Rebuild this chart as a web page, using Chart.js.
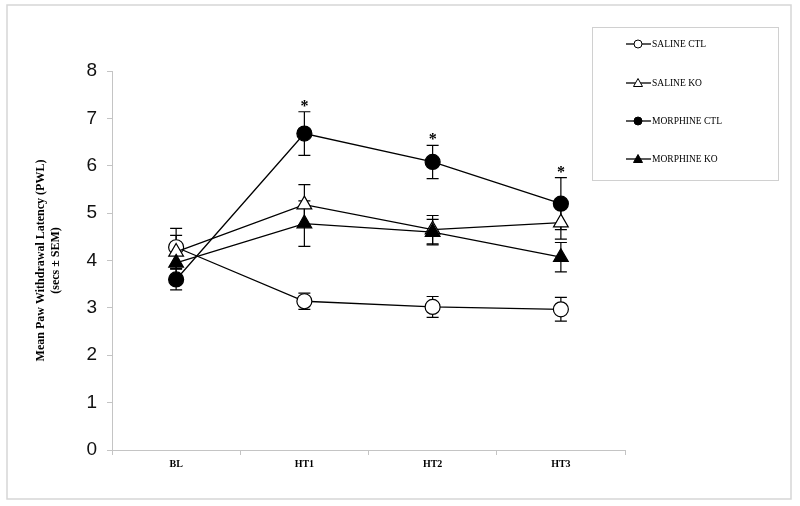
<!DOCTYPE html>
<html>
<head>
<meta charset="utf-8">
<script src="https://cdn.jsdelivr.net/npm/chart.js@4"></script>
<style>
  body { margin: 0; background: #fff; }
</style>
</head>
<body>
<canvas id="pwlChart" width="800" height="506"></canvas>
<script>
// time points
const categories = ['BL', 'HT1', 'HT2', 'HT3'];

// means (secs)
const salineCtl = [4.28, 3.14, 3.02, 2.97];
const salineKo = [4.18, 5.18, 4.65, 4.80];
const morphineCtl = [3.60, 6.68, 6.08, 5.20];
const morphineKo = [3.95, 4.78, 4.60, 4.07];

// SEM
const salineCtlSem = [0.40, 0.17, 0.22, 0.25];
const salineKoSem = [0.35, 0.42, 0.30, 0.35];
const morphineCtlSem = [0.22, 0.46, 0.35, 0.55];
const morphineKoSem = [0.30, 0.48, 0.27, 0.31];

// asterisks over MORPHINE CTL
const significant = [false, true, true, true];

const yTicks = [0, 1, 2, 3, 4, 5, 6, 7, 8];

const axisGrey = '#c4c4c4';

function series(label, data, sem, style, fill, radius, order) {
    return {
        label: label,
        data: data,
        sem: sem,
        borderColor: '#000',
        borderWidth: 1.3,
        pointStyle: style,
        pointRadius: radius,
        pointHoverRadius: radius,
        pointBackgroundColor: fill,
        pointBorderColor: '#000',
        pointBorderWidth: 1.2,
        tension: 0,
        order: order
    };
}

// light frame round the whole picture
const framePlugin = {
    id: 'frame',
    beforeDraw(chart) {
        const c = chart.ctx;
        c.save();
        c.strokeStyle = '#d6d6d6';
        c.lineWidth = 1.5;
        c.strokeRect(7, 5, 784, 494);
        c.restore();
    }
};

// vertical SEM bars with caps, under the markers
const errorBarPlugin = {
    id: 'errorBars',
    beforeDatasetsDraw(chart) {
        const c = chart.ctx;
        const y = chart.scales.y;
        c.save();
        c.strokeStyle = '#000';
        c.lineWidth = 1.2;
        chart.data.datasets.forEach((ds, i) => {
            const meta = chart.getDatasetMeta(i);
            meta.data.forEach((pt, j) => {
                const top = y.getPixelForValue(ds.data[j] + ds.sem[j]);
                const bot = y.getPixelForValue(ds.data[j] - ds.sem[j]);
                c.beginPath();
                c.moveTo(pt.x, top); c.lineTo(pt.x, bot);
                c.moveTo(pt.x - 6, top); c.lineTo(pt.x + 6, top);
                c.moveTo(pt.x - 6, bot); c.lineTo(pt.x + 6, bot);
                c.stroke();
            });
        });
        c.restore();
    },
    afterDatasetsDraw(chart) {
        const c = chart.ctx;
        const y = chart.scales.y;
        const meta = chart.getDatasetMeta(2);
        c.save();
        c.fillStyle = '#000';
        c.font = 'bold 16px "Liberation Serif"';
        c.textAlign = 'center';
        c.textBaseline = 'alphabetic';
        meta.data.forEach((pt, j) => {
            if (!significant[j]) return;
            const top = y.getPixelForValue(morphineCtl[j] + morphineCtlSem[j]);
            c.fillText('*', pt.x, top - 1);
        });
        c.restore();
    }
};

// boxed legend at the upper right
const legendBoxPlugin = {
    id: 'legendBox',
    afterDraw(chart) {
        const c = chart.ctx;
        c.save();
        c.strokeStyle = '#d0d0d0';
        c.lineWidth = 1;
        c.strokeRect(592.5, 27.5, 186, 153);
        const rows = [44, 83, 121, 159];
        chart.data.datasets.forEach((ds, i) => {
            const yy = rows[i];
            c.strokeStyle = '#000';
            c.lineWidth = 1.3;
            c.beginPath();
            c.moveTo(626, yy); c.lineTo(651, yy);
            c.stroke();
            c.fillStyle = ds.pointBackgroundColor;
            c.lineWidth = 1;
            c.beginPath();
            if (ds.pointStyle === 'circle') {
                c.arc(638, yy, 4, 0, Math.PI * 2);
            } else {
                c.moveTo(638, yy - 4.5);
                c.lineTo(642.5, yy + 3.5);
                c.lineTo(633.5, yy + 3.5);
                c.closePath();
            }
            c.fill();
            c.stroke();
            c.fillStyle = '#000';
            c.font = '9.5px "Liberation Serif"';
            c.textAlign = 'left';
            c.textBaseline = 'middle';
            c.fillText(ds.label, 652, yy + 0.5);
        });
        c.restore();
    }
};

new Chart(document.getElementById('pwlChart').getContext('2d'), {
    type: 'line',
    data: {
        labels: categories,
        datasets: [
            series('SALINE CTL', salineCtl, salineCtlSem, 'circle', '#fff', 7.5, 3),
            series('SALINE KO', salineKo, salineKoSem, 'triangle', '#fff', 8.5, 2),
            series('MORPHINE CTL', morphineCtl, morphineCtlSem, 'circle', '#000', 7.5, 1),
            series('MORPHINE KO', morphineKo, morphineKoSem, 'triangle', '#000', 8.5, 0)
        ]
    },
    options: {
        responsive: false,
        animation: false,
        layout: { padding: { left: 0, right: 175, top: 71, bottom: 0 } },
        plugins: {
            legend: { display: false },
            tooltip: { enabled: false }
        },
        scales: {
            x: {
                offset: true,
                grid: { offset: true, drawOnChartArea: false, drawTicks: true, tickLength: 5, color: axisGrey },
                border: { color: axisGrey, width: 1 },
                ticks: {
                    color: '#000',
                    padding: 3,
                    font: { family: 'Liberation Serif', size: 10, weight: 'bold' }
                },
                afterFit(scale) { scale.height = 56; }
            },
            y: {
                min: 0,
                max: 8,
                afterBuildTicks(scale) { scale.ticks = yTicks.map(v => ({ value: v })); },
                grid: { drawOnChartArea: false, drawTicks: true, tickLength: 5, color: axisGrey },
                border: { color: axisGrey, width: 1 },
                ticks: {
                    color: '#111',
                    padding: 10,
                    font: { family: 'Liberation Sans', size: 19 }
                },
                title: {
                    display: true,
                    text: ['Mean Paw Withdrawal Latency (PWL)', '(secs \u00B1 SEM)'],
                    color: '#000',
                    padding: { top: 34, bottom: 0 },
                    font: { family: 'Liberation Serif', size: 12, weight: 'bold', lineHeight: 1.2 }
                },
                afterFit(scale) { scale.width = 112; }
            }
        }
    },
    plugins: [framePlugin, errorBarPlugin, legendBoxPlugin]
});
</script>
</body>
</html>
